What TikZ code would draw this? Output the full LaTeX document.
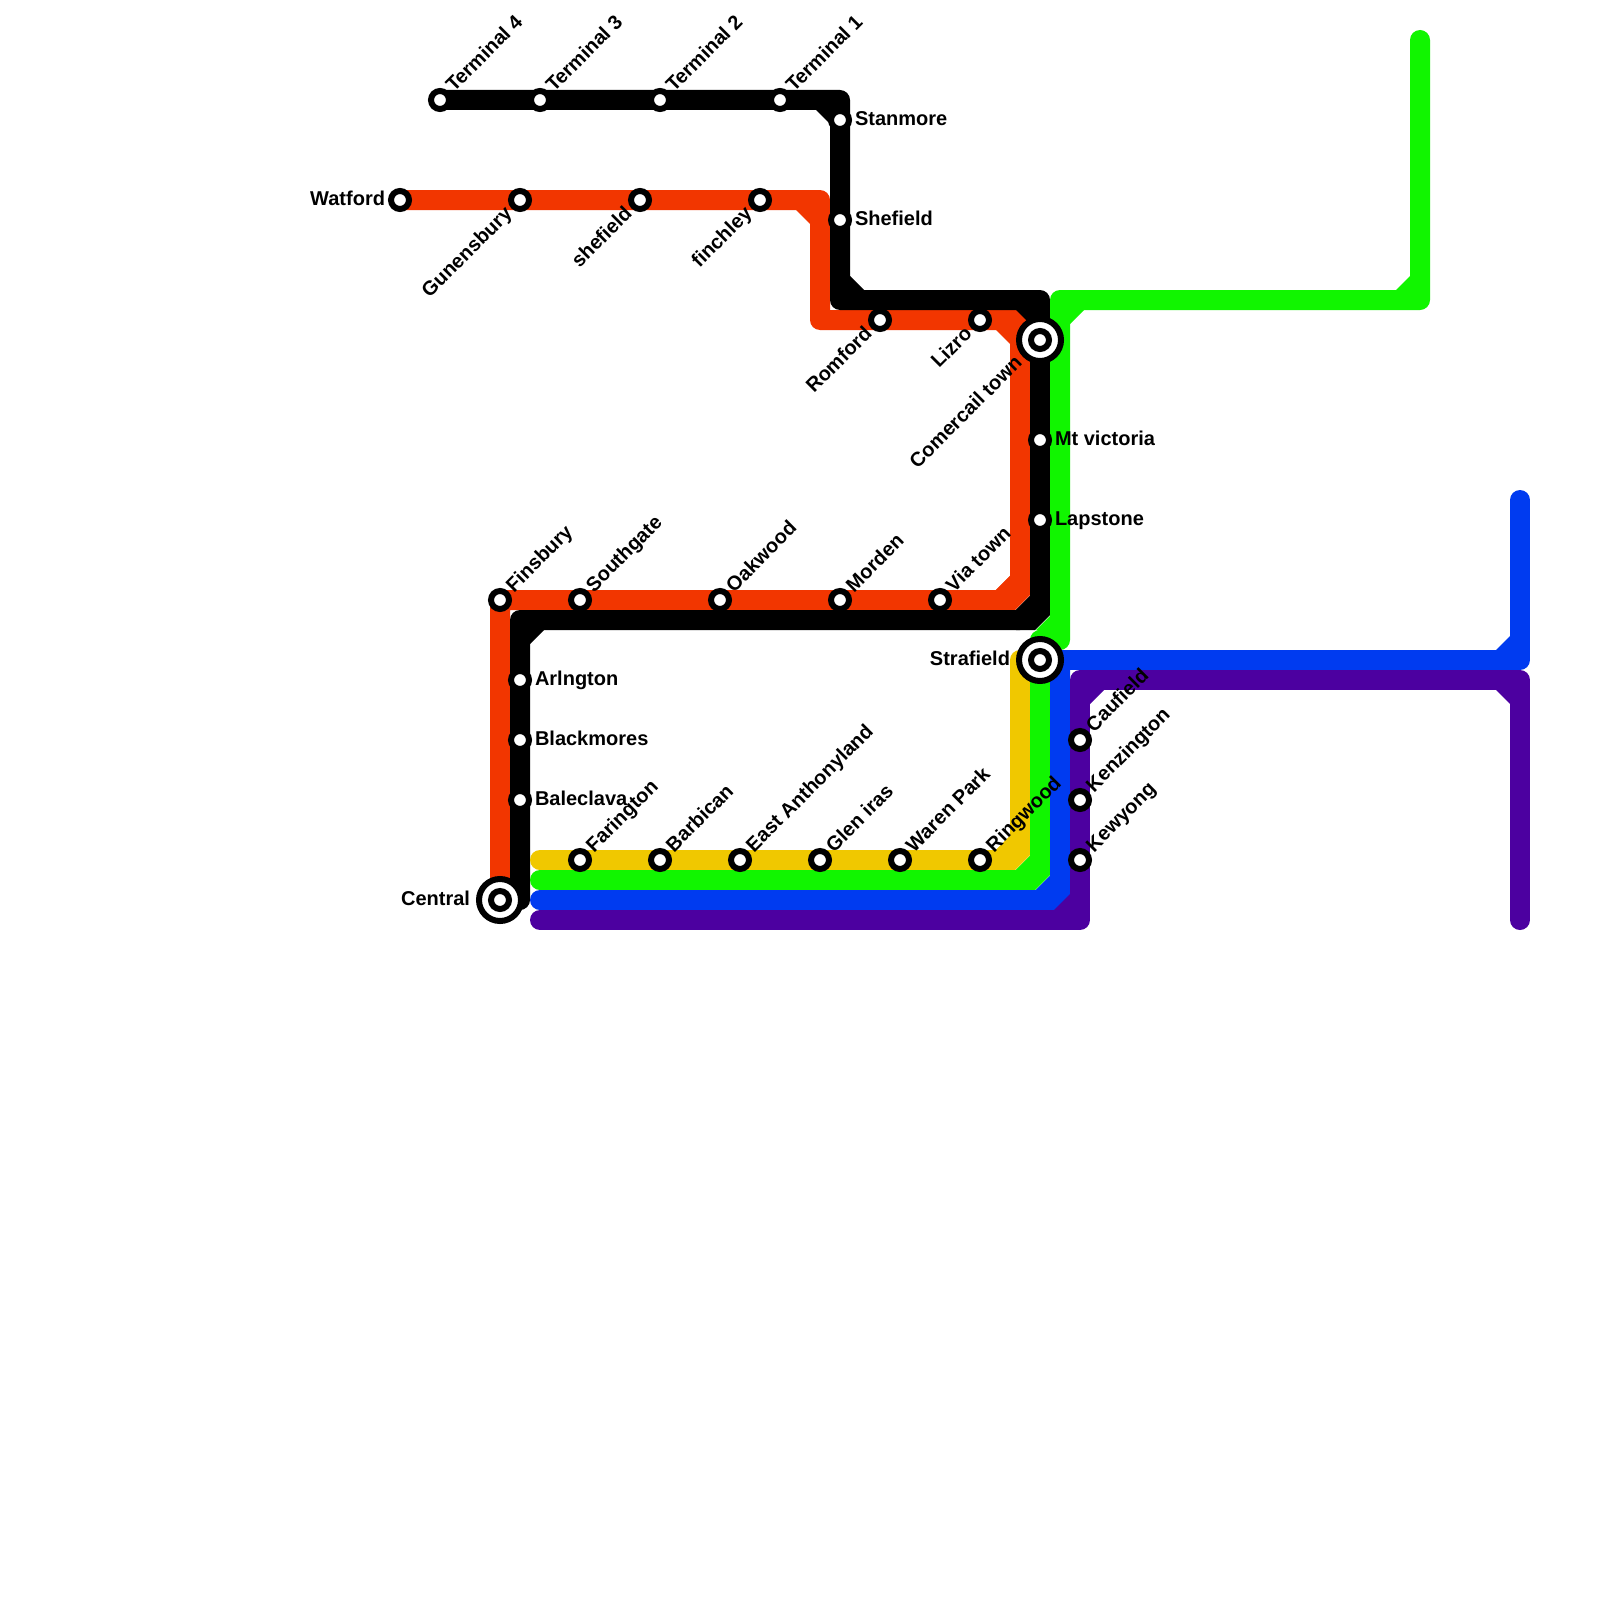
\documentclass[tikz,border=0pt]{standalone}
\usepackage{fontspec}
\setmainfont{Liberation Sans}
\definecolor{cred}{HTML}{F23600}
\definecolor{cgreen}{HTML}{11F500}
\definecolor{cblue}{HTML}{003BF0}
\definecolor{cpurple}{HTML}{4C00A0}
\definecolor{cyellow}{HTML}{F0C800}
\tikzset{
  x=0.5pt,y=-0.5pt,
  metro/.style={line width=10pt,line cap=round,line join=round},
  stop/.style={circle,draw=black,fill=white,line width=3pt,minimum size=9pt,inner sep=0pt,outer sep=0pt},
  hub/.style={circle,draw=black,fill=white,line width=3pt,minimum size=21pt,inner sep=0pt,outer sep=0pt},
  txt/.style={font=\bfseries\fontsize{10}{12}\selectfont,text=black,inner sep=0pt,outer sep=0pt},
  lup/.style={txt,rotate=45,anchor=base west},
  ldn/.style={txt,rotate=45,anchor=base east},
  lrt/.style={txt,anchor=base west},
  llf/.style={txt,anchor=base east}
}
% inner chamfer of a right-angled bend: colour, bend, unit vectors towards the inside
\newcommand{\bendcut}[6]{%
  \fill[#1] (#2,#3) -- ({#2+24*(#4)+10*(#5)},{#3+10*(#6)})
    -- ({#2+10*(#4)+24*(#5)},{#3+24*(#6)}) -- cycle;}
% a bend that comes from the left and turns upward, cut on both sides
\newcommand{\hexcut}[3]{%
  \fill[#1] ({#2+10},{#3-24}) -- ({#2+10},{#3-5}) -- ({#2-5},{#3+10})
    -- ({#2-24},{#3+10}) -- ({#2-24},{#3-10}) -- ({#2-10},{#3-24}) -- cycle;}
\newcommand{\lab}[5]{\path (#2) ++(#3,#4) node[#1] (#2-l) {#5};}
\begin{document}
\begin{tikzpicture}
\useasboundingbox[fill=white] (0,0) rectangle (1600,1600);
% stops
\foreach \n/\x/\y in {t4/440/100,t3/540/100,t2/660/100,t1/780/100,stanmore/840/120,shefieldb/840/220,
  watford/400/200,gunensbury/520/200,shefield/640/200,finchley/760/200,romford/880/320,lizro/980/320,
  comercail/1040/340,mtvictoria/1040/440,lapstone/1040/520,finsbury/500/600,southgate/580/600,
  oakwood/720/600,morden/840/600,viatown/940/600,strafield/1040/660,arlington/520/680,
  blackmores/520/740,baleclava/520/800,central/500/900,faringdon/580/860,barbican/660/860,
  eastanth/740/860,glen/820/860,waren/900/860,ringwood/980/860,caufield/1080/740,
  kenzington/1080/800,kewyong/1080/860}
  {\coordinate (\n) at (\x,\y);}
% bends
\foreach \n/\x/\y in {ra/820/200,rb/820/320,rc/1020/320,rd/1000/600,re/1020/580,
  ka/840/100,kb/840/300,kc/1040/300,kd/1020/620,ke/1040/600,kf/520/620,kg/520/900,
  ya/540/860,yb/1000/860,yc/1020/840,yd/1020/660,
  ga/540/880,gb/1020/880,gc/1040/860,gd/1040/640,ge/1060/640,gf/1060/300,gg/1420/300,gh/1420/40,
  ba/540/900,bb/1040/900,bc/1060/880,bd/1060/660,be/1520/660,bf/1520/500,
  pa/540/920,pb/1080/920,pc/1080/680,pd/1520/680,pe/1520/920}
  {\coordinate (\n) at (\x,\y);}
% red
\draw[metro,cred] (watford) -- (ra) -- (rb) -- (rc) -- (re) -- (rd) -- (finsbury) -- (central);
\bendcut{cred}{820}{200}{-1}{0}{1}
\bendcut{cred}{1020}{320}{-1}{0}{1}
\hexcut{cred}{1020}{600}
% black
\draw[metro,black] (t4) -- (ka) -- (kb) -- (kc) -- (ke) -- (kd) -- (kf) -- (kg);
\bendcut{black}{840}{100}{-1}{0}{1}
\fill[black] (840,300) -- (850,276) -- (864,290) -- cycle;
\bendcut{black}{1040}{300}{-1}{0}{1}
\fill[black] (520,620) -- (544,630) -- (530,644) -- cycle;
\hexcut{black}{1040}{620}
% yellow
\draw[metro,cyellow] (ya) -- (yb) -- (yc) -- (yd) -- (strafield);
\hexcut{cyellow}{1020}{860}
% green
\draw[metro,cgreen] (ga) -- (gb) -- (gc) -- (gd) -- (ge) -- (gf) -- (gg) -- (gh);
\hexcut{cgreen}{1040}{880}
\fill[cgreen] (1060,640) -- (1036,630) -- (1050,616) -- cycle;
\fill[cgreen] (1060,300) -- (1084,310) -- (1070,324) -- cycle;
\fill[cgreen] (1420,300) -- (1396,290) -- (1410,276) -- cycle;
% blue
\draw[metro,cblue] (ba) -- (bb) -- (bc) -- (bd);
\draw[metro,cblue] (strafield) -- (be) -- (bf);
\hexcut{cblue}{1060}{900}
\fill[cblue] (1520,660) -- (1496,650) -- (1510,636) -- cycle;
% purple
\draw[metro,cpurple] (pa) -- (pb) -- (pc) -- (pd) -- (pe);
\fill[cpurple] (1080,920) -- (1054,910) -- (1070,894) -- cycle;
\fill[cpurple] (1080,680) -- (1104,690) -- (1090,704) -- cycle;
\fill[cpurple] (1520,680) -- (1496,690) -- (1510,704) -- cycle;
% interchange rings
\node[hub] (comercail-o) at (comercail) {};
\node[hub] (strafield-o) at (strafield) {};
\node[hub] (central-o) at (central) {};
% stops
\foreach \n in {t4,t3,t2,t1,stanmore,shefieldb,watford,gunensbury,shefield,finchley,romford,lizro,
  comercail,mtvictoria,lapstone,finsbury,southgate,oakwood,morden,viatown,strafield,arlington,
  blackmores,baleclava,central,faringdon,barbican,eastanth,glen,waren,ringwood,caufield,
  kenzington,kewyong}
  {\node[stop] (\n) at (\n) {};}
% labels
\lab{lup}{t4}{14}{-7}{Terminal 4}
\lab{lup}{t3}{14}{-7}{Terminal 3}
\lab{lup}{t2}{14}{-7}{Terminal 2}
\lab{lup}{t1}{14}{-7}{Terminal 1}
\lab{lrt}{stanmore}{15}{5.5}{Stanmore}
\lab{lrt}{shefieldb}{15}{5.5}{Shefield}
\lab{llf}{watford}{-15}{5.5}{Watford}
\lab{ldn}{gunensbury}{-7}{15}{Gunensbury}
\lab{ldn}{shefield}{-7}{15}{shefield}
\lab{ldn}{finchley}{-7}{15}{finchley}
\lab{ldn}{romford}{-7}{15}{Romford}
\lab{ldn}{lizro}{-7}{15}{Lizro}
\lab{ldn}{comercail}{-17}{24}{Comercail town}
\lab{lrt}{mtvictoria}{15}{5.5}{Mt victoria}
\lab{lrt}{lapstone}{15}{5.5}{Lapstone}
\lab{lup}{finsbury}{14}{-7}{Finsbury}
\lab{lup}{southgate}{14}{-7}{Southgate}
\lab{lup}{oakwood}{14}{-7}{Oakwood}
\lab{lup}{morden}{14}{-7}{Morden}
\lab{lup}{viatown}{14}{-7}{Via town}
\lab{llf}{strafield}{-30}{5.5}{Strafield}
\lab{lrt}{arlington}{15}{5.5}{Arlngton}
\lab{lrt}{blackmores}{15}{5.5}{Blackmores}
\lab{lrt}{baleclava}{15}{5.5}{Baleclava}
\lab{llf}{central}{-30}{5.5}{Central}
\lab{lup}{faringdon}{14}{-7}{Farington}
\lab{lup}{barbican}{14}{-7}{Barbican}
\lab{lup}{eastanth}{14}{-7}{East Anthonyland}
\lab{lup}{glen}{14}{-7}{Glen iras}
\lab{lup}{waren}{14}{-7}{Waren Park}
\lab{lup}{ringwood}{14}{-7}{Ringwood}
\lab{lup}{caufield}{14}{-7}{Caufield}
\lab{lup}{kenzington}{14}{-7}{Kenzington}
\lab{lup}{kewyong}{14}{-7}{Kewyong}
\end{tikzpicture}
\end{document}
